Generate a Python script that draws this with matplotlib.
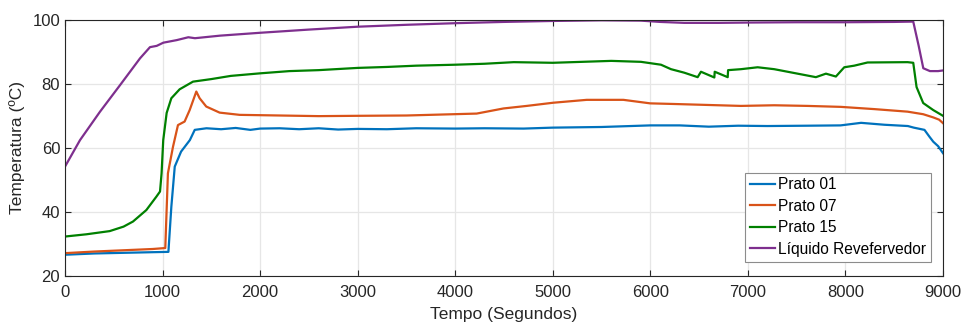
import matplotlib.pyplot as plt

# Dados (tempo em s, temperatura em ºC)
t_p01 = [0, 300, 600, 900, 1060, 1090, 1125, 1190, 1280, 1330, 1450, 1600, 1750, 1900, 2000,
         2200, 2400, 2600, 2800, 3000, 3300, 3600, 4000, 4300, 4700, 5000, 5500, 6000,
         6300, 6600, 6900, 7200, 7600, 7950, 8160, 8400, 8640, 8700, 8810, 8860, 8900, 8950, 9000]
T_p01 = [26.5, 26.9, 27.1, 27.3, 27.4, 41.5, 54.1, 58.8, 62.4, 65.6, 66.1, 65.8, 66.2, 65.6, 66.0,
         66.1, 65.8, 66.1, 65.7, 65.9, 65.8, 66.1, 66.0, 66.1, 66.0, 66.3, 66.5, 67.0,
         67.0, 66.6, 66.9, 66.8, 66.9, 67.0, 67.8, 67.2, 66.8, 66.3, 65.6, 63.5, 61.9, 60.5, 58.3]

t_p07 = [0, 300, 600, 900, 1028, 1055, 1107, 1158, 1226, 1278, 1346, 1380, 1448, 1585, 1790,
         2200, 2600, 3000, 3500, 3980, 4220, 4494, 4733, 5006, 5348, 5724, 5998,
         6246, 6587, 6929, 7270, 7612, 7953, 8295, 8637, 8797, 8900, 8960, 9000]
T_p07 = [27.0, 27.5, 27.9, 28.3, 28.6, 52.0, 60.3, 67.1, 68.2, 71.8, 77.6, 75.5, 72.9, 71.0, 70.3,
         70.1, 69.9, 70.0, 70.1, 70.5, 70.7, 72.3, 73.1, 74.1, 75.0, 75.0, 73.9,
         73.7, 73.4, 73.1, 73.3, 73.1, 72.8, 72.1, 71.3, 70.5, 69.5, 68.8, 67.7]

t_p15 = [0, 219, 458, 600, 697, 834, 937, 974, 990, 1007, 1042, 1090, 1175, 1312, 1500, 1700, 2000,
         2300, 2600, 3000, 3300, 3600, 4000, 4300, 4600, 5000, 5300, 5600, 5904, 6109,
         6212, 6348, 6485, 6519, 6656, 6660, 6793, 6797, 6929, 7100, 7270, 7441, 7697,
         7800, 7902, 7988, 8090, 8227, 8637, 8695, 8729, 8797, 8900, 9000]
T_p15 = [32.2, 32.9, 33.9, 35.3, 36.9, 40.5, 44.7, 46.3, 52.0, 62.4, 70.9, 75.5, 78.3, 80.7, 81.5, 82.5, 83.3,
         84.0, 84.3, 85.0, 85.3, 85.7, 86.0, 86.3, 86.8, 86.6, 86.9, 87.2, 86.9, 86.0,
         84.6, 83.5, 82.1, 83.8, 82.0, 83.8, 82.1, 84.3, 84.6, 85.2, 84.6, 83.6, 82.1,
         83.2, 82.3, 85.2, 85.7, 86.7, 86.8, 86.6, 79.0, 74.0, 71.8, 70.0]

t_liq = [0, 154, 359, 564, 769, 871, 940, 1008, 1145, 1264, 1332, 1589, 2000, 2500, 3000,
         3500, 4000, 4500, 5000, 5500, 5904, 6100, 6348, 6700, 7000, 7500, 8000, 8500,
         8695, 8750, 8798, 8866, 8950, 9000]
T_liq = [54.1, 62.4, 71.3, 79.6, 88.0, 91.5, 91.9, 92.9, 93.7, 94.6, 94.3, 95.1, 96.0, 97.0, 97.9,
         98.5, 99.0, 99.4, 99.7, 99.9, 99.8, 99.4, 99.1, 99.1, 99.2, 99.3, 99.3, 99.4,
         99.5, 92.0, 84.9, 84.0, 84.0, 84.2]

series = [
    (t_p01, T_p01, 'Prato 01', '#0072BD'),
    (t_p07, T_p07, 'Prato 07', '#D95319'),
    (t_p15, T_p15, 'Prato 15', '#008000'),
    (t_liq, T_liq, 'Líquido Revefervedor', '#7E2F8E'),
]

plt.rcParams['font.family'] = ['Liberation Sans', 'DejaVu Sans']
fig = plt.figure(figsize=(9.61, 3.23), dpi=100)
ax = fig.add_axes([65 / 961, 1 - 275.5 / 323, 878 / 961, 255.5 / 323])

for t, T, label, color in series:
    ax.plot(t, T, color=color, lw=1.6, label=label)

ax.set_xlim(0, 9000)
ax.set_ylim(20, 100)
ax.set_xticks(range(0, 9001, 1000))
ax.set_yticks(range(20, 101, 20))
ax.grid(True, color='#e6e6e6', lw=0.9)
ax.set_axisbelow(True)
ax.tick_params(direction='in', top=True, right=True, length=4, labelsize=12,
               colors='#262626', width=0.8)
ax.tick_params(axis='x', pad=7)
for s in ax.spines.values():
    s.set_color('#262626')
    s.set_linewidth(0.8)

ax.set_xlabel('Tempo (Segundos)', fontsize=12.5, color='#262626', labelpad=5)
ax.set_ylabel('Temperatura (ºC)', fontsize=12.5, color='#262626', labelpad=5)

leg = ax.legend(loc='lower right', bbox_to_anchor=(1 - 12.5 / 878, 14 / 255.5),
                borderaxespad=0, fontsize=11.2,
                fancybox=False, edgecolor='#8c8c8c', framealpha=1,
                handlelength=1.6, handletextpad=0.2, borderpad=0.3, labelspacing=0.42)
leg.get_frame().set_linewidth(0.8)

fig.savefig('out.png', dpi=100)
